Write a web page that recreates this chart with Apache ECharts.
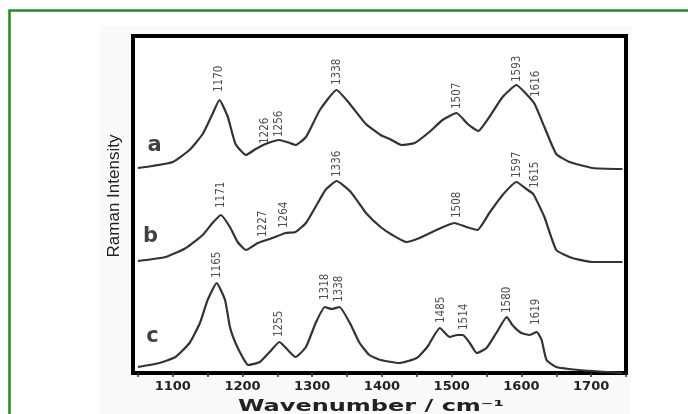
<!DOCTYPE html>
<html><head><meta charset="utf-8">
<script src="https://cdn.jsdelivr.net/npm/echarts@6/dist/echarts.min.js"></script>
<style>html,body{margin:0;padding:0;background:#fff}#c{width:688px;height:414px}</style>
</head><body><div id="c"></div>
<script>
// x-axis ticks (cm^-1)
const xTickValues = [1050,1100,1150,1200,1250,1300,1350,1400,1450,1500,1550,1600,1650,1700,1750];
const xLabelValues = [1100,1200,1300,1400,1500,1600,1700];

// spectrum a (offset included)
const aWave = [1050,1071,1100,1124,1143,1157,1167,1179,1190,1205,1219,1233,1253,1268,1276,1291,1311,1335,1354,1377,1398,1411,1428,1447,1468,1487,1507,1523,1538,1554,1573,1593,1607,1619,1633,1650,1669,1702,1745];
const aInt  = [205,207,211,223,239,259,273,256,229,218,224,229,233,230,228,236,263,283,269,249,238,234,228,230,241,253,260,249,242,256,276,288,279,269,246,219,211,205,204];

// spectrum b
const bWave = [1050,1090,1119,1143,1157,1169,1182,1193,1205,1222,1243,1262,1276,1291,1308,1319,1335,1354,1368,1377,1398,1415,1435,1454,1478,1504,1521,1537,1554,1573,1593,1607,1617,1633,1650,1673,1702,1745];
const bInt  = [112,116,125,138,150,158,146,131,123,130,135,140,141,150,170,183,192,182,169,160,146,138,131,135,143,150,146,143,160,178,191,184,179,156,123,115,111,111];

// spectrum c
const cWave = [1050,1081,1104,1124,1139,1150,1163,1175,1182,1190,1200,1208,1225,1239,1253,1265,1276,1291,1305,1318,1328,1339,1354,1368,1382,1398,1425,1450,1465,1483,1497,1508,1516,1526,1536,1550,1564,1579,1587,1600,1612,1622,1629,1636,1650,1683,1745];
const cInt  = [6,10,16,30,50,73,90,73,46,30,16,8,11,21,31,23,16,26,50,66,64,66,50,30,18,13,10,15,26,45,36,38,38,30,20,25,40,56,48,40,38,41,33,13,6,3,0];

// peak labels
const peakText = ['1170','1226','1256','1338','1507','1593','1616',
                  '1171','1227','1264','1336','1508','1597','1615',
                  '1165','1255','1318','1338','1485','1514','1580','1619'];
const peakWave = [1167,1232,1253,1335,1508,1593,1621,
                  1169,1229,1260,1336,1507,1593,1619,
                  1164,1253,1319,1339,1485,1518,1580,1621];
const peakInt  = [281,229,236,288,264,291,276,
                  165,136,145,196,155,195,185,
                  95,36,73,71,50,43,60,48];

// trace letters
const letterText = ['a','b','c'];
const letterWave = [1074,1068,1071];
const letterInt  = [227,136,36];

const zip = (xs, ys) => xs.map((x, i) => [x, ys[i]]);
const lineStyle = {color:'#333', width:2.2};
const mkLine = (name, xs, ys) => ({
  name, type:'line', data: zip(xs, ys), showSymbol:false, smooth:0.15,
  lineStyle, silent:true, z:3
});

const chart = echarts.init(document.getElementById('c'), null, {renderer:'canvas'});
chart.setOption({
  animation:false,
  backgroundColor:'#fff',
  graphic:[
    {type:'rect', z:-20, shape:{x:100, y:26, width:531, height:400}, style:{fill:'#fafafa'}},
    {type:'rect', z:-10, shape:{x:9.5, y:10.5, width:720, height:440}, style:{fill:null, stroke:'#1f8c1f', lineWidth:2.5}},
    {type:'text', x:371, y:407, scaleX:1.6, z:10,
     style:{text:'Wavenumber / cm⁻¹', font:'bold 15px "DejaVu Sans"', fill:'#222', textAlign:'center', textVerticalAlign:'middle'}}
  ],
  grid:{left:133, right:62, top:36, bottom:41, show:true, borderColor:'#000', borderWidth:4, backgroundColor:'#fff'},
  xAxis:{
    type:'value', min:1043, max:1750,
    axisLine:{show:true, lineStyle:{color:'#000', width:4}},
    axisTick:{show:true, length:4, customValues:xTickValues, lineStyle:{color:'#333', width:1.5}},
    axisLabel:{show:true, customValues:xLabelValues, formatter:(v) => String(v), margin:7,
               fontFamily:'DejaVu Sans', fontWeight:'bold', fontSize:13, color:'#222'},
    splitLine:{show:false}
  },
  yAxis:{
    type:'value', min:0, max:337,
    name:'Raman Intensity', nameLocation:'middle', nameRotate:90, nameGap:10,
    nameTextStyle:{fontFamily:'Liberation Sans', fontSize:17, color:'#222', padding:[0,0,0,17]},
    axisLine:{show:false}, axisTick:{show:false}, axisLabel:{show:false}, splitLine:{show:false}
  },
  series:[
    mkLine('a', aWave, aInt),
    mkLine('b', bWave, bInt),
    mkLine('c', cWave, cInt),
    {type:'scatter', symbolSize:0, silent:true, z:4,
     data: peakText.map((t, i) => ({name:t, value:[peakWave[i], peakInt[i]]})),
     label:{show:true, formatter:'{b}', position:[0,0], rotate:90, align:'left', verticalAlign:'middle',
            fontFamily:'DejaVu Sans Condensed', fontSize:11.5, color:'#222'}},
    {type:'scatter', symbolSize:0, silent:true, z:4,
     data: letterText.map((t, i) => ({name:t, value:[letterWave[i], letterInt[i]]})),
     label:{show:true, formatter:'{b}', position:[0,0], align:'center', verticalAlign:'middle',
            fontFamily:'DejaVu Sans', fontWeight:'bold', fontSize:21, color:'#111'}}
  ]
});
</script></body></html>
